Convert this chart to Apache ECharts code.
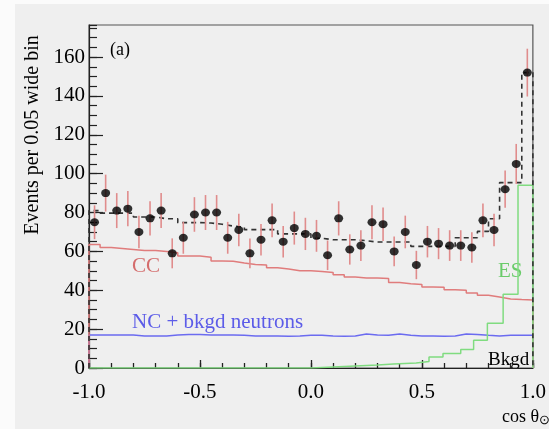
<!DOCTYPE html>
<html>
<head>
<meta charset="utf-8">
<script src="https://cdn.jsdelivr.net/npm/echarts@6/dist/echarts.min.js"></script>
<style>html,body{margin:0;padding:0;background:#efefef;}#c{width:549px;height:429px;}</style>
</head>
<body>
<div id="c"></div>
<script>
// 40 bins of width 0.05 from -1 to 1
const binStart = -1.0;
const binWidth = 0.05;
const dataValues = [75, 90, 81, 82, 70, 77, 81, 59, 67, 79, 80, 80, 67, 71, 59, 66, 76, 65, 72, 69,
                    68, 58, 77, 61, 63, 75, 74, 60, 70, 53, 65, 64, 63, 63, 62, 76, 71, 92, 105, 152];
const dataErrors = [8.7, 9.5, 9.0, 9.1, 8.4, 8.8, 9.0, 7.7, 8.2, 8.9, 9.0, 9.0, 8.2, 8.4, 7.7, 8.1, 8.7, 8.1, 8.5, 8.3,
                    8.2, 7.6, 8.8, 7.8, 7.9, 8.7, 8.6, 7.7, 8.4, 7.3, 8.1, 8.0, 7.9, 7.9, 7.9, 8.7, 8.4, 9.6, 10.3, 12.3];
const totalFit = [81, 79.7, 79.7, 79.7, 77.7, 77.7, 76.8, 76.8, 74.8, 74.8, 74.6, 74, 73, 72.5, 71.2, 71.2, 71.2, 69, 69, 69,
                  66.8, 66, 66, 66, 65.5, 64.8, 64.8, 64.8, 64.8, 62.6, 62.6, 62.6, 62.6, 67, 67, 70.3, 76.8, 95.4, 95.4, 152];
const ccValues = [63.5, 62, 61.5, 61, 60.5, 60.5, 60, 59.3, 57.6, 57.6, 57, 55, 54.9, 54, 53.2, 53, 51.6, 51, 50.1, 50,
                  49.7, 49.2, 48, 46.8, 46.3, 46.3, 46, 44, 43.4, 43, 41.7, 41.5, 40.3, 40, 38.6, 37.4, 36.5, 35.5, 35.2, 35];
const ncValues = [17, 17, 17, 17, 16.5, 16.5, 16.5, 17, 17.2, 17.2, 17, 17, 17, 16.8, 16.5, 16.5, 16.5, 16.3, 16.5, 16.8,
                  16.8, 16.5, 16.3, 16.5, 17.5, 17, 16.8, 17.5, 16.8, 16.5, 16.5, 16.3, 16.5, 17.5, 17.3, 16.8, 16.5, 16.8, 16.8, 16.8];
// ES histogram as drawn (its step edges)
const esEdges = [-1.0, 0.0, 0.1, 0.2, 0.3, 0.372, 0.474, 0.532, 0.595, 0.675, 0.733, 0.795, 0.866, 0.933, 1.0];
const esValues = [0, 0.5, 1.0, 1.5, 2.0, 2.6, 3.4, 5.7, 7.4, 9.5, 14.3, 23, 38, 94];
const xTickLabels = ['-1.0', '-0.5', '0.0', '0.5', '1.0'];
const yTickLabels = ['0', '20', '40', '60', '80', '100', '120', '140', '160'];

function binEdges(n) { const e = []; for (let i = 0; i <= n; i++) e.push(+(binStart + i * binWidth).toFixed(4)); return e; }
function stepPoints(vals, edges) {
  const pts = [[edges[0], 0]];
  for (let i = 0; i < vals.length; i++) { pts.push([edges[i], vals[i]]); pts.push([edges[i + 1], vals[i]]); }
  pts.push([edges[vals.length], 0]);
  return pts;
}
const edges = binEdges(dataValues.length);
const centers = dataValues.map((v, i) => +(binStart + (i + 0.5) * binWidth).toFixed(4));

const FONT = 'Liberation Serif';
const chart = echarts.init(document.getElementById('c'), null, { renderer: 'canvas' });
const yMax = 176.5;

chart.setOption({
  backgroundColor: '#efefef',
  animation: false,
  grid: { left: 89, right: 11, top: 25, bottom: 61, show: true, borderColor: '#555', borderWidth: 1.2, backgroundColor: 'transparent' },
  xAxis: [
    { type: 'value', min: -1, max: 1, interval: 0.5,
      axisLine: { onZero: false, lineStyle: { color: '#222', width: 1.2 } },
      axisTick: { show: true, inside: true, length: 8, lineStyle: { color: '#222', width: 1.3 } },
      splitLine: { show: false },
      axisLabel: { color: '#000', fontFamily: FONT, fontSize: 21, margin: 14,
        formatter: v => xTickLabels[Math.round((v + 1) / 0.5)] } },
    { type: 'value', min: -1, max: 1, interval: 0.1, position: 'bottom', gridIndex: 0,
      axisLine: { show: false, onZero: false },
      axisTick: { show: true, inside: true, length: 5, lineStyle: { color: '#222', width: 1.3 } },
      splitLine: { show: false }, axisLabel: { show: false } }
  ],
  yAxis: [
    { type: 'value', min: 0, max: yMax, interval: 20,
      axisLine: { show: true, onZero: false, lineStyle: { color: '#222', width: 1.2 } },
      axisTick: { show: true, inside: true, length: 14, lineStyle: { color: '#222', width: 1.2 } },
      splitLine: { show: false },
      axisLabel: { color: '#000', fontFamily: FONT, fontSize: 21, margin: 4, showMaxLabel: false,
        formatter: v => (Math.abs(v % 20) < 1e-6 ? yTickLabels[Math.round(v / 20)] : '') } },
    { type: 'value', min: 0, max: yMax, interval: 5, position: 'left',
      axisLine: { show: false, onZero: false },
      axisTick: { show: true, inside: true, length: 8, lineStyle: { color: '#222', width: 1.2 } },
      splitLine: { show: false }, axisLabel: { show: false } }
  ],
  graphic: [
    { type: 'rect', left: 0, top: 0, shape: { width: 15, height: 429 }, style: { fill: '#fbfbfb' }, z: -1 },
    { type: 'rect', left: 0, top: 0, shape: { width: 549, height: 4 }, style: { fill: '#fbfbfb' }, z: -1 },
    { type: 'text', x: 33, y: 135, rotation: Math.PI / 2, style: { text: 'Events per 0.05 wide bin', fill: '#000', font: '20px "Liberation Serif"', textAlign: 'center', textVerticalAlign: 'middle' } },
    { type: 'text', x: 110, y: 50, style: { text: '(a)', fill: '#000', font: '18px "Liberation Serif"', textVerticalAlign: 'middle' } },
    { type: 'text', x: 132, y: 266, style: { text: 'CC', fill: '#d46c6c', font: '21px "Liberation Serif"', textVerticalAlign: 'middle' } },
    { type: 'text', x: 132, y: 322, style: { text: 'NC + bkgd neutrons', fill: '#5c5ce8', font: '21px "Liberation Serif"', textVerticalAlign: 'middle' } },
    { type: 'text', x: 498, y: 271, style: { text: 'ES', fill: '#6acb6a', font: '21px "Liberation Serif"', textVerticalAlign: 'middle' } },
    { type: 'text', x: 488, y: 360, style: { text: 'Bkgd', fill: '#000', font: '19px "Liberation Serif"', textVerticalAlign: 'middle' } },
    { type: 'text', x: 502, y: 417, style: { rich: { m: { font: '18px "Liberation Serif"', fill: '#000' }, s: { font: '13px "Liberation Serif"', fill: '#000', padding: [8, 0, 0, 0] } }, text: '{m|cos }{m|θ}{s|⊙}', textVerticalAlign: 'middle' } }
  ],
  series: [
    { type: 'line', name: 'NC', data: stepPoints(ncValues, edges), showSymbol: false, symbol: 'none', lineStyle: { color: '#6b6bf0', width: 1.5 }, z: 2 },
    { type: 'line', name: 'CC', data: stepPoints(ccValues, edges), showSymbol: false, symbol: 'none', lineStyle: { color: '#e07c7c', width: 1.5 }, z: 2 },
    { type: 'line', name: 'ES', data: stepPoints(esValues, esEdges), showSymbol: false, symbol: 'none', lineStyle: { color: '#80dc80', width: 1.5 }, z: 2 },
    { type: 'line', name: 'Total', data: stepPoints(totalFit, edges), showSymbol: false, symbol: 'none', lineStyle: { color: '#333', width: 1.6, type: [5, 4] }, z: 3 },
    { type: 'custom', name: 'err', z: 4,
      data: centers.map((c, i) => [c, dataValues[i], dataErrors[i]]),
      renderItem: (params, api) => {
        const x = api.value(0), y = api.value(1), e = api.value(2);
        const p1 = api.coord([x, y - e]), p2 = api.coord([x, y + e]);
        return { type: 'line', shape: { x1: p1[0], y1: p1[1], x2: p2[0], y2: p2[1] }, style: { stroke: '#e08c8c', lineWidth: 1.6 } };
      } },
    { type: 'scatter', name: 'Data', data: centers.map((c, i) => [c, dataValues[i]]), symbol: 'circle', symbolSize: [9, 8], itemStyle: { color: '#000' }, z: 5 }
  ]
});
</script>
</body>
</html>
